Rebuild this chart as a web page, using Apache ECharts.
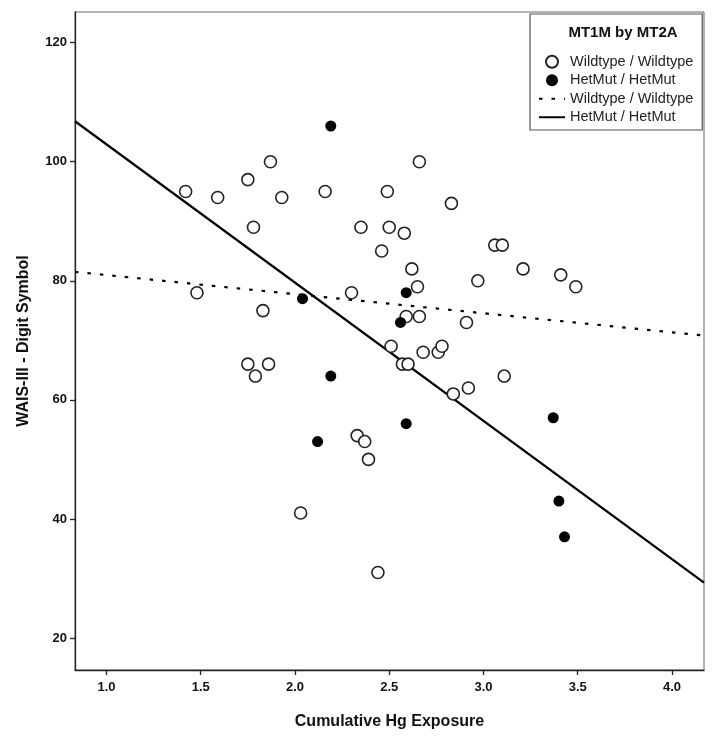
<!DOCTYPE html>
<html>
<head>
<meta charset="utf-8">
<script src="https://cdn.jsdelivr.net/npm/echarts@6/dist/echarts.min.js"></script>
<style>html,body{margin:0;padding:0;background:#fff}#c{width:714px;height:743px}</style>
</head>
<body>
<div id="c"></div>
<script>
// Wildtype / Wildtype (open circles): [Cumulative Hg Exposure, WAIS-III Digit Symbol]
const wildtypePoints = [
  [1.42,95],[1.48,78],[1.59,94],[1.75,97],[1.78,89],[1.87,100],[1.93,94],[1.83,75],
  [1.75,66],[1.79,64],[1.86,66],[2.16,95],[2.03,41],[2.30,78],[2.33,54],[2.37,53],
  [2.39,50],[2.35,89],[2.44,31],[2.46,85],[2.49,95],[2.50,89],[2.51,69],[2.58,88],
  [2.57,66],[2.60,66],[2.59,74],[2.62,82],[2.65,79],[2.66,74],[2.66,100],[2.68,68],
  [2.76,68],[2.78,69],[2.83,93],[2.84,61],[2.91,73],[2.92,62],[2.97,80],[3.06,86],
  [3.10,86],[3.11,64],[3.21,82],[3.41,81],[3.49,79]
];
// HetMut / HetMut (filled circles)
const hetmutPoints = [
  [2.19,106],[2.04,77],[2.59,78],[2.56,73],[2.19,64],[2.12,53],[2.59,56],
  [3.37,57],[3.40,43],[3.43,37]
];
// Fit lines (end points read at the plot edges)
const wildtypeFit = [[0.833,81.5],[4.17,70.8]];
const hetmutFit = [[0.833,106.8],[4.17,29.3]];
// Axes
const xRange = [0.833, 4.17];
const yRange = [14.63, 125.15];
const xTicks = [1.0,1.5,2.0,2.5,3.0,3.5,4.0];
const yTicks = [20,40,60,80,100,120];

const FONT = 'Arial, "Liberation Sans", Helvetica, sans-serif';
const chart = echarts.init(document.getElementById('c'));
const hidden = {color: 'rgba(0,0,0,0)', borderWidth: 0, opacity: 0};
chart.setOption({
  animation: false,
  backgroundColor: '#fff',
  title: {
    text: 'MT1M by MT2A',
    left: 618, top: 20, textAlign: 'center',
    textStyle: {fontFamily: FONT, fontWeight: 'bold', fontSize: 15, color: '#111'}
  },
  legend: {
    orient: 'vertical',
    left: 530, top: 14,
    padding: [40, 9, 5, 8],
    itemGap: 3,
    itemWidth: 26, itemHeight: 12,
    backgroundColor: '#fff',
    borderColor: '#555', borderWidth: 1.2,
    textStyle: {fontFamily: FONT, fontSize: 14.5, lineHeight: 15.5, color: '#222'},
    formatter: n => n.trim(),
    data: [
      {name: 'Wildtype / Wildtype'},
      {name: 'HetMut / HetMut'},
      {name: 'Wildtype / Wildtype ', itemStyle: hidden},
      {name: 'HetMut / HetMut ', itemStyle: hidden}
    ]
  },
  grid: {left: 75, right: 10, top: 12, bottom: 73, show: true, borderColor: '#666', borderWidth: 1},
  xAxis: {
    type: 'value', min: xRange[0], max: xRange[1],
    name: 'Cumulative Hg Exposure', nameLocation: 'middle', nameGap: 44,
    nameTextStyle: {fontFamily: FONT, fontWeight: 'bold', fontSize: 16, color: '#111'},
    axisLine: {show: true, onZero: false, lineStyle: {color: '#222', width: 1.3}},
    axisTick: {show: true, length: 5, customValues: xTicks, lineStyle: {color: '#222', width: 1.3}},
    axisLabel: {customValues: xTicks, margin: 11, formatter: v => v.toFixed(1),
      fontFamily: FONT, fontWeight: 'bold', fontSize: 13, color: '#111'},
    splitLine: {show: false}
  },
  yAxis: {
    type: 'value', min: yRange[0], max: yRange[1],
    name: 'WAIS-III - Digit Symbol', nameLocation: 'middle', nameGap: 43,
    nameTextStyle: {fontFamily: FONT, fontWeight: 'bold', fontSize: 16, color: '#111'},
    axisLine: {show: true, onZero: false, lineStyle: {color: '#222', width: 1.3}},
    axisTick: {show: true, length: 5, customValues: yTicks, lineStyle: {color: '#222', width: 1.3}},
    axisLabel: {customValues: yTicks, margin: 8,
      fontFamily: FONT, fontWeight: 'bold', fontSize: 13, color: '#111'},
    splitLine: {show: false}
  },
  series: [
    {
      name: 'Wildtype / Wildtype', type: 'scatter', data: wildtypePoints,
      symbol: 'circle', symbolSize: 12,
      itemStyle: {color: '#fff', borderColor: '#222', borderWidth: 1.6, opacity: 1}, z: 3
    },
    {
      name: 'HetMut / HetMut', type: 'scatter', data: hetmutPoints,
      symbol: 'circle', symbolSize: 11,
      itemStyle: {color: '#000', borderColor: '#000', borderWidth: 0, opacity: 1}, z: 3
    },
    {
      name: 'Wildtype / Wildtype ', type: 'line', data: wildtypeFit,
      showSymbol: false, symbol: 'none', silent: true,
      lineStyle: {color: '#000', width: 2.2, type: [3.5, 9]},
      itemStyle: {color: '#000'}, z: 2
    },
    {
      name: 'HetMut / HetMut ', type: 'line', data: hetmutFit,
      showSymbol: false, symbol: 'none', silent: true,
      lineStyle: {color: '#000', width: 2.2},
      itemStyle: {color: '#000'}, z: 2
    }
  ]
});
</script>
</body>
</html>
